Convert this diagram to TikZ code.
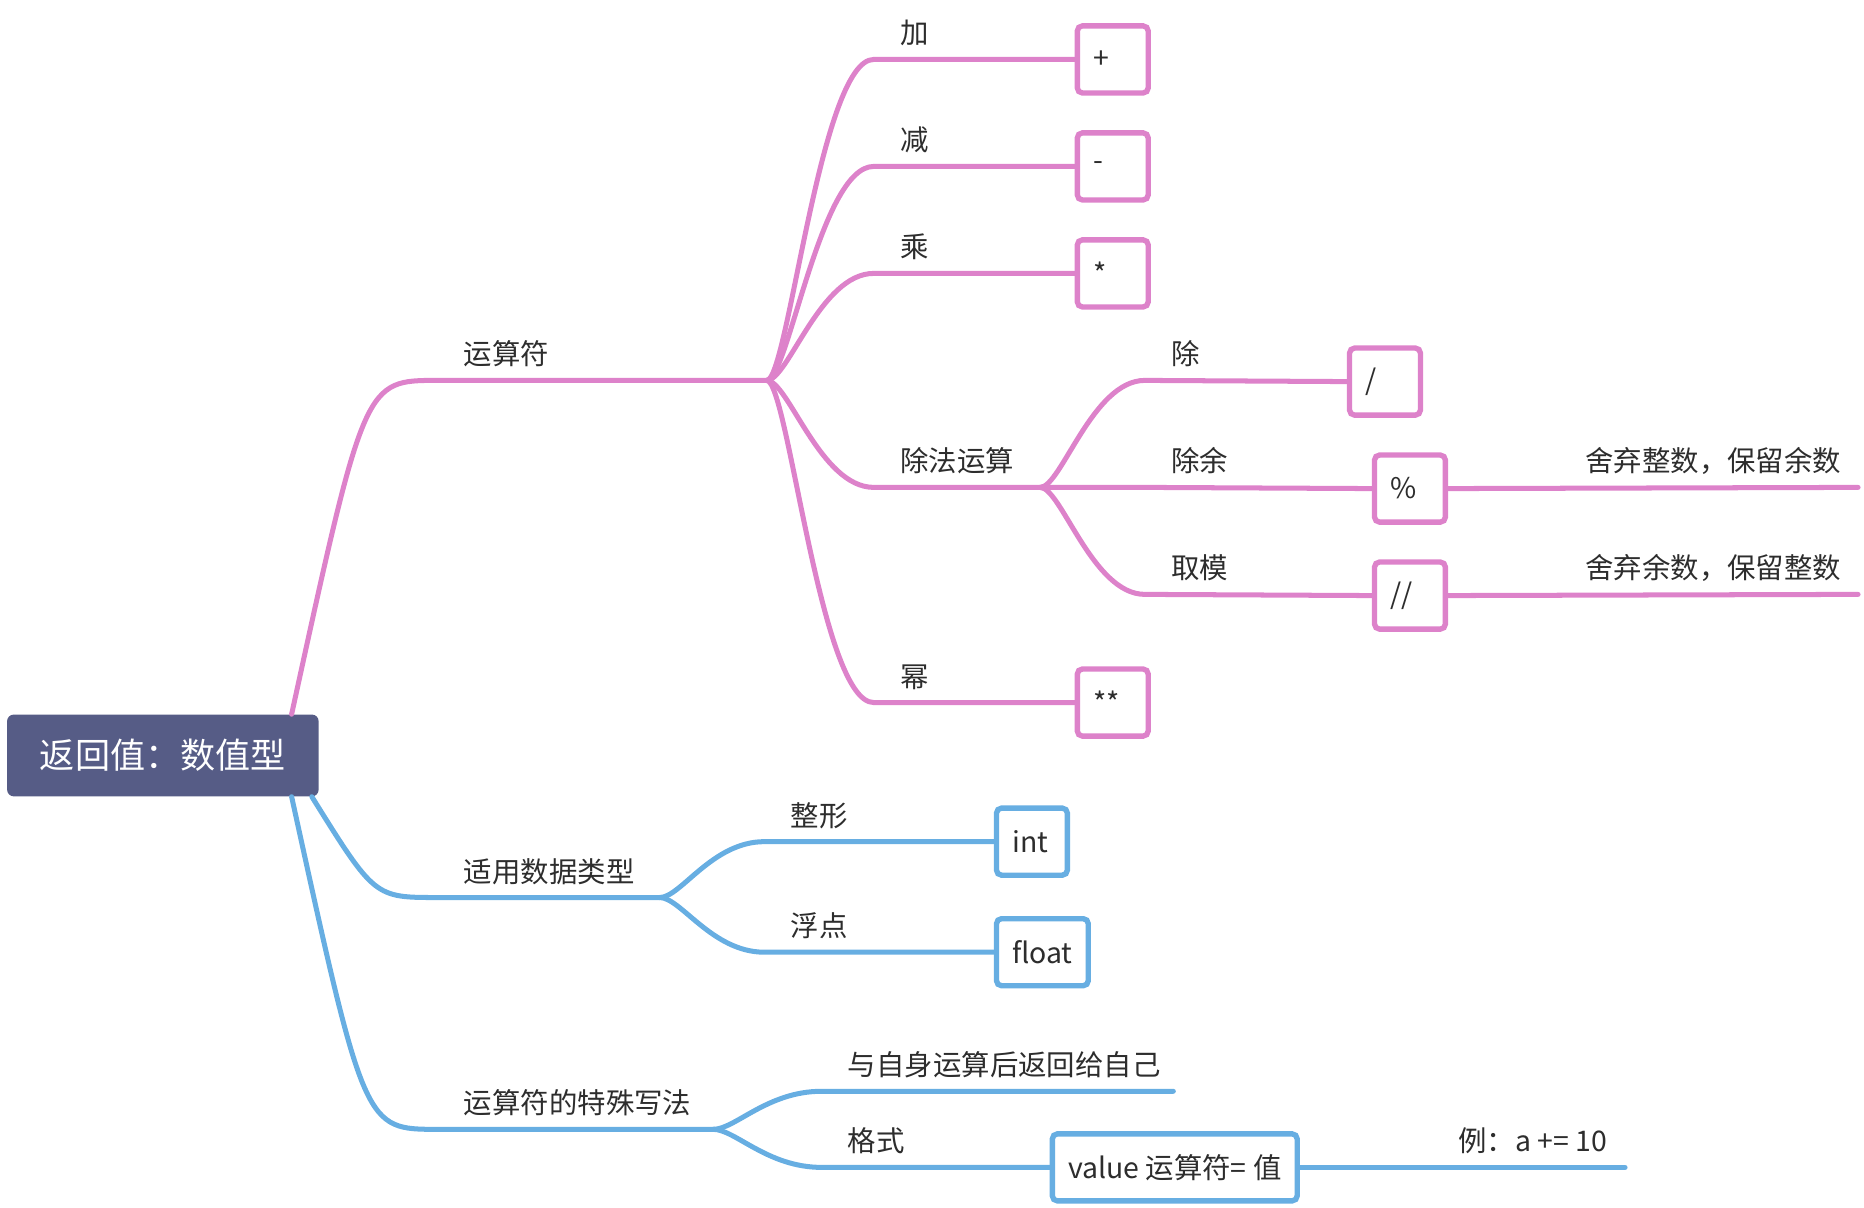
\documentclass[tikz,border=0pt]{standalone}
\usepackage{fontspec}
\setmainfont{Noto Sans CJK SC}
\usepackage{tikz}
\usetikzlibrary{calc,positioning}
\definecolor{mmpink}{RGB}{221,130,202}
\definecolor{mmblue}{RGB}{103,174,226}
\definecolor{rootfill}{RGB}{86,92,134}
\definecolor{ink}{RGB}{45,45,45}
\tikzset{
  rootbox/.style={rectangle, rounded corners=4pt, fill=rootfill, text=white,
                  font=\fontsize{21pt}{25pt}\selectfont, minimum width=6.55cm, minimum height=1.72cm},
  topic/.style={anchor=base west, inner sep=0pt, text=ink, font=\fontsize{17pt}{20pt}\selectfont},
  note/.style={topic, anchor=base east},
  valbox/.style={rectangle, rounded corners=3pt, line width=3.2pt, fill=white, text=ink, anchor=west,
                 font=\fontsize{17pt}{20pt}\selectfont, inner xsep=0.33cm, minimum height=1.41cm},
  opbox/.style={valbox, text width=0.83cm, align=left},
  pinkline/.style={draw=mmpink, line width=3pt, line cap=round},
  blueline/.style={draw=mmblue, line width=3pt, line cap=round},
  % from the root: steep start, round end
  branch/.style={to path={.. controls ($(\tikztotarget -| \tikztostart)!0.5!(\tikztotarget)$) .. (\tikztotarget) \tikztonodes}},
  % from a fork: short bend, steep middle, round end
  fork/.style={to path={.. controls ($(\tikztostart)!0.2!(\tikztostart -| \tikztotarget)$)
                        and ($(\tikztotarget -| \tikztostart)!0.5!(\tikztotarget)$) .. (\tikztotarget) \tikztonodes}},
}
\begin{document}
\begin{tikzpicture}[x=0.025cm, y=-0.025cm]
  \useasboundingbox (0,0) rectangle (1568,1016);
  \node[rootbox] (root) at (137,635.5) {返回值：数值型};
  \coordinate (rootN)  at ($(root.north east)+(-23,0)$);
  \coordinate (rootS1) at ($(root.south east)+(-23,0)$);
  \coordinate (rootS2) at ($(root.south east)+(-6,0)$);

  % operators (pink)
  \coordinate (opsA) at (368,320);
  \coordinate (opsB) at (645,320);
  \node[topic] (ops) at ($(opsA)+(22,-13)$) {运算符};
  \coordinate (addA) at (735,50);
  \coordinate (subA) at (735,140);
  \coordinate (mulA) at (735,230);
  \coordinate (divsA) at (735,410);
  \coordinate (divsB) at (875,410);
  \coordinate (powA) at (735,591);
  \node[topic] (add) at ($(addA)+(22,-13)$) {加};
  \node[topic] (sub) at ($(subA)+(22,-13)$) {减};
  \node[topic] (mul) at ($(mulA)+(22,-13)$) {乘};
  \node[topic] (divs) at ($(divsA)+(22,-13)$) {除法运算};
  \node[topic] (pow) at ($(powA)+(22,-13)$) {幂};
  \node[opbox, draw=mmpink] (addBox) at (904,50) {+};
  \node[opbox, draw=mmpink] (subBox) at (904,140) {-};
  \node[opbox, draw=mmpink] (mulBox) at (904,230) {*};
  \node[opbox, draw=mmpink] (powBox) at (904,591) {**};
  % division
  \coordinate (divA) at (963,320);
  \coordinate (modA) at (963,410);
  \coordinate (fdivA) at (963,500);
  \coordinate (modEnd) at (1563,410);
  \coordinate (fdivEnd) at (1563,500);
  \node[topic] (div) at ($(divA)+(22,-13)$) {除};
  \node[topic] (mod) at ($(modA)+(22,-13)$) {除余};
  \node[topic] (fdiv) at ($(fdivA)+(22,-13)$) {取模};
  \node[opbox, draw=mmpink] (divBox) at (1133,321) {/};
  \node[opbox, draw=mmpink] (modBox) at (1154,411) {\%};
  \node[opbox, draw=mmpink] (fdivBox) at (1154,501) {//};
  \node[note] (modNote) at (1549,397) {舍弃整数，保留余数};
  \node[note] (fdivNote) at (1549,487) {舍弃余数，保留整数};

  \draw[pinkline] (rootN) to[branch] (opsA) -- (opsB);
  \draw[pinkline] (opsB) to[fork] (addA) -- (addBox.west);
  \draw[pinkline] (opsB) to[fork] (subA) -- (subBox.west);
  \draw[pinkline] (opsB) to[fork] (mulA) -- (mulBox.west);
  \draw[pinkline] (opsB) to[fork] (divsA) -- (divsB);
  \draw[pinkline] (opsB) to[fork] (powA) -- (powBox.west);
  \draw[pinkline] (divsB) to[fork] (divA) -- (divBox.west);
  \draw[pinkline] (divsB) to[fork] (modA) -- (modBox.west);
  \draw[pinkline] (divsB) to[fork] (fdivA) -- (fdivBox.west);
  \draw[pinkline] (modBox.east) -- (modEnd);
  \draw[pinkline] (fdivBox.east) -- (fdivEnd);

  % data types (blue)
  \coordinate (typA) at (368,755);
  \coordinate (typB) at (555,755);
  \coordinate (intA) at (643,708);
  \coordinate (fltA) at (643,801);
  \node[topic] (types) at ($(typA)+(22,-13)$) {适用数据类型};
  \node[topic] (intT) at ($(intA)+(22,-13)$) {整形};
  \node[topic] (fltT) at ($(fltA)+(22,-13)$) {浮点};
  \node[opbox, draw=mmblue] (intBox) at (836,708) {int};
  \node[valbox, draw=mmblue] (fltBox) at (836,801) {float};
  \draw[blueline] (rootS2) to[branch] (typA) -- (typB);
  \draw[blueline] (typB) to[fork] (intA) -- (intBox.west);
  \draw[blueline] (typB) to[fork] (fltA) -- (fltBox.west);

  % special form (blue)
  \coordinate (spcA) at (368,950);
  \coordinate (spcB) at (600,950);
  \coordinate (selfA) at (691,918);
  \coordinate (selfEnd) at (987,918);
  \coordinate (fmtA) at (691,982);
  \coordinate (fmtEnd) at (1367,982);
  \node[topic] (special) at ($(spcA)+(22,-13)$) {运算符的特殊写法};
  \node[topic] (self) at ($(selfA)+(22,-13)$) {与自身运算后返回给自己};
  \node[topic] (fmt) at ($(fmtA)+(22,-13)$) {格式};
  \node[valbox, draw=mmblue] (fmtBox) at (883,982) {value 运算符= 值};
  \node[note] (fmtNote) at (1352,969) {例：a += 10};
  \draw[blueline] (rootS1) to[branch] (spcA) -- (spcB);
  \draw[blueline] (spcB) to[fork] (selfA) -- (selfEnd);
  \draw[blueline] (spcB) to[fork] (fmtA) -- (fmtBox.west);
  \draw[blueline] (fmtBox.east) -- (fmtEnd);
\end{tikzpicture}
\end{document}
